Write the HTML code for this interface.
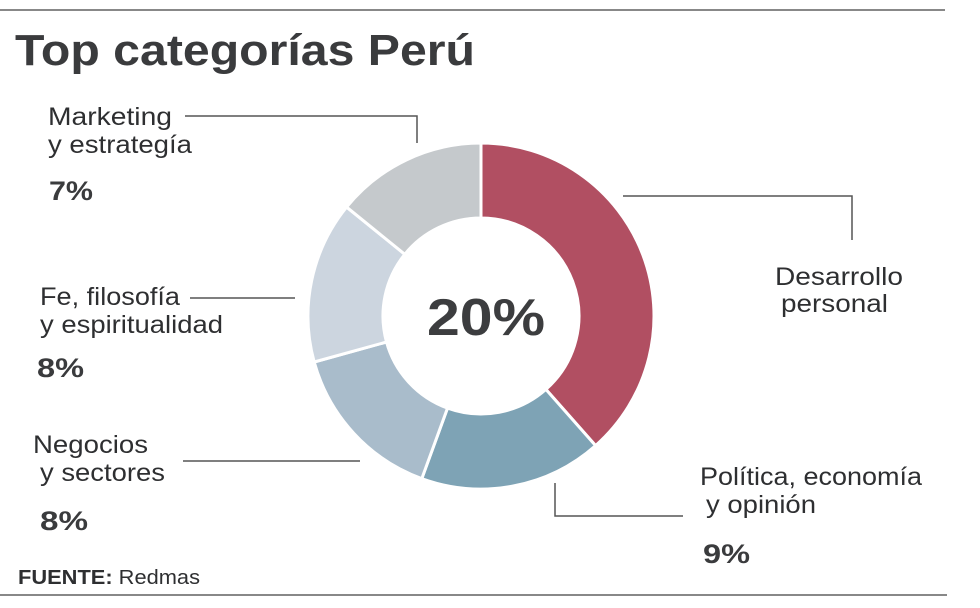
<!DOCTYPE html>
<html><head><meta charset="utf-8"><style>
html,body{margin:0;padding:0;background:#fff;}
svg{display:block;font-family:"Liberation Sans",sans-serif;}
</style></head><body>
<svg width="980" height="608" viewBox="0 0 980 608" xmlns="http://www.w3.org/2000/svg">
<rect width="980" height="608" fill="#fff"/>
<line x1="0" y1="10" x2="945" y2="10" stroke="#888" stroke-width="2"/>
<line x1="0" y1="595" x2="947" y2="595" stroke="#888" stroke-width="2"/>
<text x="15" y="65" font-size="44" font-weight="bold" fill="#3a3b3d" textLength="460" lengthAdjust="spacingAndGlyphs">Top categorías Perú</text>

<g stroke="#fff" stroke-width="3" stroke-linejoin="miter">
<path d="M481,143 A173,173 0 0 1 595.6,445.6 L545.9,389.4 A98,98 0 0 0 481,218 Z" fill="#b14f62"/>
<path d="M595.6,445.6 A173,173 0 0 1 421.8,478.6 L447.5,408.1 A98,98 0 0 0 545.9,389.4 Z" fill="#7ea3b5"/>
<path d="M421.8,478.6 A173,173 0 0 1 314.2,362 L386.5,342 A98,98 0 0 0 447.5,408.1 Z" fill="#a9bccb"/>
<path d="M314.2,362 A173,173 0 0 1 346.6,207.1 L404.8,254.3 A98,98 0 0 0 386.5,342 Z" fill="#ccd5df"/>
<path d="M346.6,207.1 A173,173 0 0 1 481,143 L481,218 A98,98 0 0 0 404.8,254.3 Z" fill="#c5c9cc"/>
</g>
<text x="486" y="335" font-size="52" font-weight="bold" fill="#3c3d3f" text-anchor="middle" textLength="118" lengthAdjust="spacingAndGlyphs">20%</text>

<g stroke="#555" stroke-width="1.5" fill="none">
<polyline points="185,116 417,116 417,143"/>
<polyline points="623,196 852,196 852,240"/>
<line x1="190" y1="298" x2="295" y2="298"/>
<line x1="183" y1="461" x2="360" y2="461"/>
<polyline points="555,483 555,516 683,516"/>
</g>

<g font-size="25" fill="#2e2f31" lengthAdjust="spacingAndGlyphs">
<text x="48" y="125" textLength="124" lengthAdjust="spacingAndGlyphs">Marketing</text>
<text x="48" y="153" textLength="144" lengthAdjust="spacingAndGlyphs">y estrategía</text>
<text x="40" y="305" textLength="140" lengthAdjust="spacingAndGlyphs">Fe, filosofía</text>
<text x="40" y="333" textLength="183" lengthAdjust="spacingAndGlyphs">y espiritualidad</text>
<text x="33" y="453" textLength="115" lengthAdjust="spacingAndGlyphs">Negocios</text>
<text x="40" y="481" textLength="125" lengthAdjust="spacingAndGlyphs">y sectores</text>
<text x="775" y="285" textLength="128" lengthAdjust="spacingAndGlyphs">Desarrollo</text>
<text x="781" y="312" textLength="107" lengthAdjust="spacingAndGlyphs">personal</text>
<text x="700" y="485" textLength="222" lengthAdjust="spacingAndGlyphs">Política, economía</text>
<text x="706" y="513" textLength="110" lengthAdjust="spacingAndGlyphs">y opinión</text>
</g>
<g font-size="27" font-weight="bold" fill="#3a3b3d">
<text x="49" y="200" textLength="44" lengthAdjust="spacingAndGlyphs">7%</text>
<text x="37" y="377" textLength="47" lengthAdjust="spacingAndGlyphs">8%</text>
<text x="40" y="530" textLength="48" lengthAdjust="spacingAndGlyphs">8%</text>
<text x="703" y="563" textLength="47" lengthAdjust="spacingAndGlyphs">9%</text>
</g>
<text x="18" y="584" font-size="20" fill="#2e2f31" textLength="182" lengthAdjust="spacingAndGlyphs"><tspan font-weight="bold">FUENTE:</tspan> Redmas</text>
</svg>
</body></html>
